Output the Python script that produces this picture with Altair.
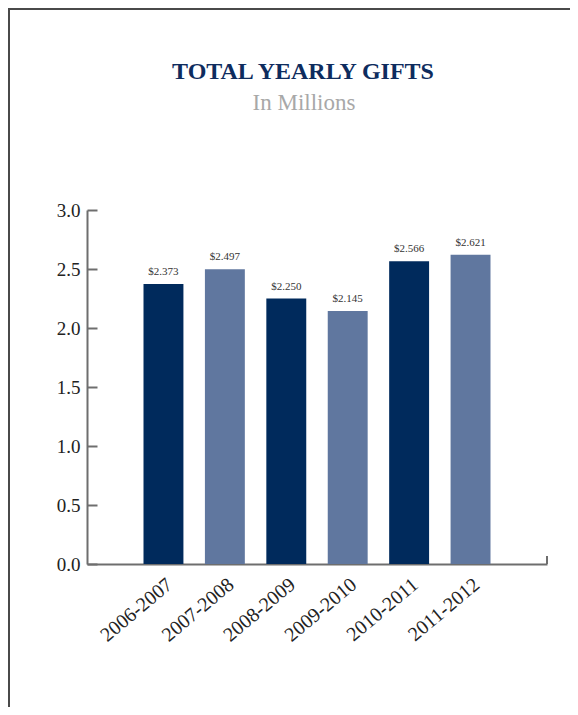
import altair as alt
import pandas as pd

years = ["2006-2007", "2007-2008", "2008-2009", "2009-2010", "2010-2011", "2011-2012"]
gifts = [2.373, 2.497, 2.250, 2.145, 2.566, 2.621]
shades = ["dark", "light", "dark", "light", "dark", "light"]
y_ticks = [0.0, 0.5, 1.0, 1.5, 2.0, 2.5, 3.0]
title_text = "TOTAL YEARLY GIFTS"
subtitle_text = "In Millions"

df = pd.DataFrame({
    "year": years,
    "gifts": gifts,
    "shade": shades,
    "label": ["$" + f"{v:.3f}" for v in gifts],
})

FONT = "Liberation Serif"
AXIS_GRAY = "#6e6e6e"
W, H = 460, 354

base = alt.Chart(df).encode(
    x=alt.X(
        "year:N",
        sort=None,
        scale=alt.Scale(paddingInner=0.35, paddingOuter=0.92),
        axis=alt.Axis(
            title=None,
            ticks=False,
            domainColor=AXIS_GRAY,
            domainWidth=2,
            labelAngle=-40,
            labelFont=FONT,
            labelFontSize=20,
            labelColor="#222222",
            labelPadding=10,
        ),
    )
)

bars = base.mark_bar().encode(
    y=alt.Y(
        "gifts:Q",
        scale=alt.Scale(domain=[0, 3]),
        axis=alt.Axis(
            title=None,
            values=y_ticks,
            format=".1f",
            ticks=False,
            grid=False,
            domainColor=AXIS_GRAY,
            domainWidth=2,
            labelFont=FONT,
            labelFontSize=19,
            labelColor="#222222",
            labelPadding=7,
        ),
    ),
    color=alt.Color(
        "shade:N",
        scale=alt.Scale(domain=["dark", "light"], range=["#002a5c", "#60779f"]),
        legend=None,
    ),
)

labels = base.mark_text(
    baseline="bottom", dy=-7, font=FONT, fontSize=11, color="#333333"
).encode(
    y=alt.Y(
        "gifts:Q",
        axis=alt.Axis(
            orient="right",
            offset=-W,
            title=None,
            values=y_ticks,
            labels=False,
            domain=False,
            grid=False,
            ticks=True,
            tickSize=10,
            tickWidth=2,
            tickColor=AXIS_GRAY,
        ),
    ),
    text="label:N",
)

end_tick = alt.Chart(pd.DataFrame({"k": [0]})).mark_rule(
    color=AXIS_GRAY, strokeWidth=2
).encode(x=alt.value(W), y=alt.value(H - 8), y2=alt.value(H))

frame = alt.Chart(pd.DataFrame({"k": [0]})).mark_rect(
    fillOpacity=0, stroke="#4a4a4a", strokeWidth=2
).encode(x=alt.value(-78), x2=alt.value(800), y=alt.value(-201), y2=alt.value(900))

title_mark = alt.Chart(pd.DataFrame({"k": [0]})).mark_text(
    font=FONT, fontSize=24, fontWeight="bold", color="#0e2c5e",
    align="center", baseline="middle"
).encode(x=alt.value(216), y=alt.value(-138), text=alt.value(title_text))

subtitle_mark = alt.Chart(pd.DataFrame({"k": [0]})).mark_text(
    font=FONT, fontSize=23, color="#a8a8a8",
    align="center", baseline="middle"
).encode(x=alt.value(217), y=alt.value(-107), text=alt.value(subtitle_text))

chart = (
    alt.layer(frame, title_mark, subtitle_mark, bars, labels, end_tick)
    .resolve_axis(y="independent")
    .properties(
        width=W,
        height=H,
        autosize=alt.AutoSizeParams(type="none"),
        padding={"left": 79, "top": 202, "right": 23, "bottom": 143},
    )
    .configure_view(strokeWidth=0)
)

chart.save("out.html", embed_options={"renderer": "svg", "actions": False})
